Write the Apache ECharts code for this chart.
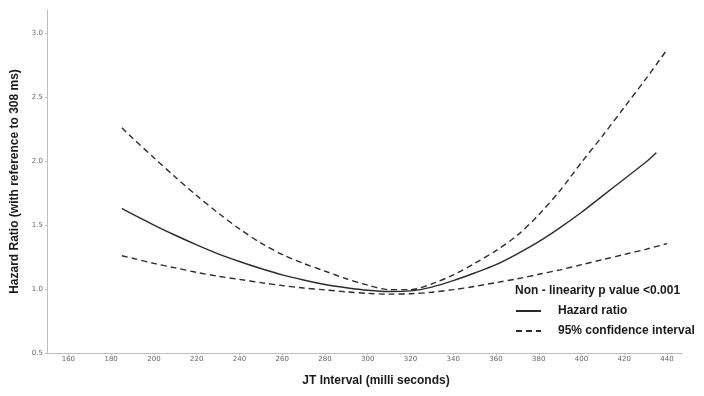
<!DOCTYPE html>
<html>
<head>
<meta charset="utf-8">
<script src="https://cdn.jsdelivr.net/npm/echarts@6/dist/echarts.min.js"></script>
<style>html,body{margin:0;padding:0;background:#fff}#c{width:704px;height:396px}</style>
</head>
<body>
<div id="c"></div>
<script>
const xTicks = [160,180,200,220,240,260,280,300,320,340,360,380,400,420,440];
const yTicks = [0.5,1.0,1.5,2.0,2.5,3.0];
const hrX = [185,190,200,210,220,230,240,250,260,270,280,290,300,310,320,330,340,350,360,370,380,390,400,410,420,430,435];
const hrY = [1.63,1.585,1.50,1.42,1.345,1.275,1.215,1.16,1.11,1.07,1.035,1.01,0.99,0.98,0.985,1.015,1.065,1.125,1.19,1.275,1.37,1.48,1.60,1.73,1.86,1.99,2.065];
const ciX = [185,190,200,210,220,230,240,250,260,270,280,290,300,310,320,330,340,350,360,370,380,390,400,410,420,430,440];
const upperY = [2.26,2.18,2.025,1.875,1.73,1.595,1.47,1.36,1.27,1.20,1.14,1.08,1.03,0.995,0.995,1.04,1.11,1.20,1.30,1.42,1.58,1.77,1.99,2.20,2.42,2.64,2.87];
const lowerY = [1.26,1.24,1.20,1.165,1.13,1.10,1.075,1.05,1.027,1.008,0.993,0.978,0.966,0.96,0.963,0.975,0.995,1.02,1.05,1.08,1.115,1.15,1.19,1.23,1.27,1.31,1.355];
const pTitle = 'Non - linearity p value <0.001';
const hrName = 'Hazard ratio';
const ciName = '95% confidence interval';

const zip = (xs, ys) => xs.map((x, i) => [x, ys[i]]);
const lineCol = '#2b2b2b';
const chart = echarts.init(document.getElementById('c'));
chart.setOption({
  animation: false,
  backgroundColor: '#fff',
  grid: {left: 47, right: 22, top: 10, bottom: 43, containLabel: false},
  title: {
    text: pTitle, left: 515, top: 285, padding: 0,
    textStyle: {fontFamily: 'Liberation Sans', fontWeight: 'bold', fontSize: 12, color: '#1a1a1a'}
  },
  legend: {
    orient: 'vertical', left: 515, top: 305, padding: 0, itemGap: 8,
    itemWidth: 25, itemHeight: 14,
    itemStyle: {opacity: 0},
    data: [hrName, ciName],
    textStyle: {fontFamily: 'Liberation Sans', fontWeight: 'bold', fontSize: 12, color: '#1a1a1a', padding: [0,0,0,12]}
  },
  xAxis: {
    type: 'value', min: 150, max: 447,
    name: 'JT Interval (milli seconds)', nameLocation: 'middle', nameGap: 22,
    nameTextStyle: {fontFamily: 'Liberation Sans', fontWeight: 'bold', fontSize: 12, color: '#1a1a1a', padding: [0,0,0,23]},
    axisLine: {lineStyle: {color: '#bdbdbd', width: 1}},
    axisTick: {show: true, length: 2, customValues: xTicks, lineStyle: {color: '#bdbdbd'}},
    axisLabel: {customValues: xTicks, fontSize: 7, color: '#666', margin: 3, fontFamily: 'DejaVu Sans'},
    splitLine: {show: false}
  },
  yAxis: {
    type: 'value', min: 0.5, max: 3.18,
    name: 'Hazard Ratio (with reference to 308 ms)', nameLocation: 'middle', nameGap: 25,
    nameTextStyle: {fontFamily: 'Liberation Sans', fontWeight: 'bold', fontSize: 12, color: '#1a1a1a'},
    axisLine: {show: true, lineStyle: {color: '#bdbdbd', width: 1}},
    axisTick: {show: true, length: 2, customValues: yTicks, lineStyle: {color: '#bdbdbd'}},
    axisLabel: {customValues: yTicks, fontSize: 7, color: '#666', margin: 4, fontFamily: 'DejaVu Sans',
      formatter: v => v.toFixed(1)},
    splitLine: {show: false}
  },
  series: [
    {name: hrName, type: 'line', data: zip(hrX, hrY), smooth: 0.3, symbol: 'none',
     lineStyle: {color: lineCol, width: 1.4, type: 'solid'}, itemStyle: {color: lineCol}},
    {name: ciName, type: 'line', data: zip(ciX, upperY), smooth: 0.3, symbol: 'none',
     lineStyle: {color: lineCol, width: 1.4, type: [6, 4]}, itemStyle: {color: lineCol}},
    {name: ciName, type: 'line', data: zip(ciX, lowerY), smooth: 0.3, symbol: 'none',
     lineStyle: {color: lineCol, width: 1.4, type: [6, 4]}, itemStyle: {color: lineCol}}
  ]
});
</script>
</body>
</html>
